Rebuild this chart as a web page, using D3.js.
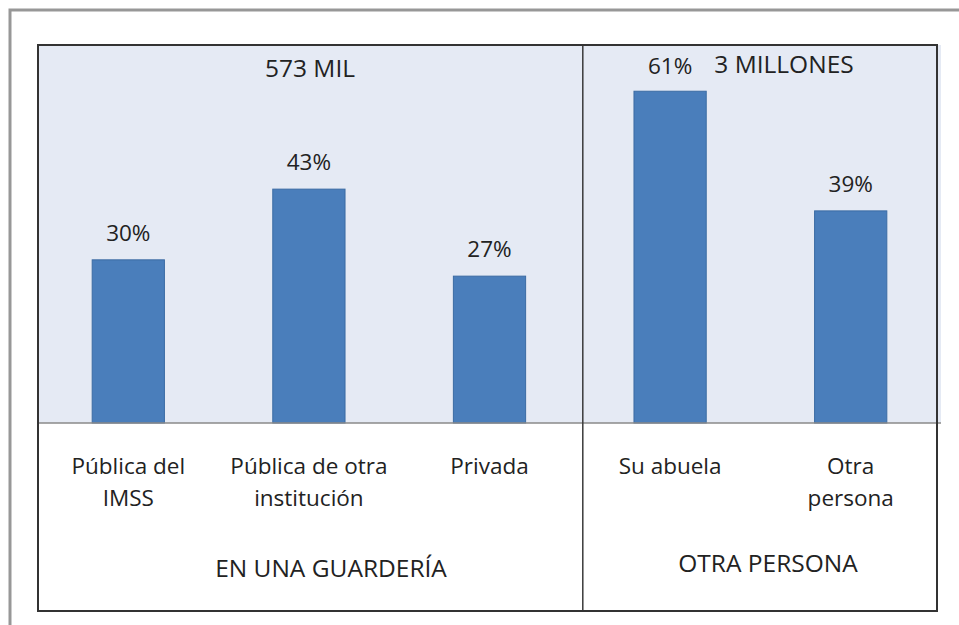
<!DOCTYPE html>
<html>
<head>
<meta charset="utf-8">
<script src="https://cdn.jsdelivr.net/npm/d3@7"></script>
<style>
  body { margin: 0; background: #fff; }
  text { font-family: "Open Sans", "Noto Sans", sans-serif; fill: #222; }
</style>
</head>
<body>
<svg width="959" height="625"></svg>
<script>
// Chart data.
var categories = [["Pública del", "IMSS"], ["Pública de otra", "institución"], ["Privada"], ["Su abuela"], ["Otra", "persona"]];
var values = [30, 43, 27, 61, 39];
var groups = ["EN UNA GUARDERÍA", "OTRA PERSONA"];
var groupTotals = ["573 MIL", "3 MILLONES"];
var groupSizes = [3, 2];

var svg = d3.select("svg");

var frame = { left: 38, top: 45, right: 937, bottom: 611 };
var axisY = 423;
var fontSize = 22.5;
var capsSize = 24.5; // upper-case labels come out narrow otherwise

// Outer grey border (cut off at right and bottom).
svg.append("path")
  .attr("d", "M10,625 V10 H959")
  .attr("fill", "none")
  .attr("stroke", "#979797")
  .attr("stroke-width", 3);

// Plot area background.
svg.append("rect")
  .attr("x", frame.left)
  .attr("y", frame.top)
  .attr("width", 941 - frame.left)
  .attr("height", axisY - frame.top)
  .attr("fill", "#e5eaf4");

var x = d3.scaleBand()
  .domain(d3.range(values.length))
  .range([frame.left, 941])
  .paddingInner(0.6)
  .paddingOuter(0.3);

var y = d3.scaleLinear()
  .domain([0, 69.5])
  .range([axisY, frame.top]);

// Bars.
svg.append("g").selectAll("rect")
  .data(values)
  .enter().append("rect")
    .attr("x", function(d, i) { return x(i); })
    .attr("y", function(d) { return y(d); })
    .attr("width", x.bandwidth())
    .attr("height", function(d) { return axisY - y(d); })
    .attr("fill", "#4a7ebb")
    .attr("stroke", "#3b6ba3")
    .attr("stroke-width", 1);

// Value labels.
svg.append("g").selectAll("text")
  .data(values)
  .enter().append("text")
    .attr("x", function(d, i) { return x(i) + x.bandwidth() / 2; })
    .attr("y", function(d) { return Math.max(y(d) - 19, 74); })
    .attr("text-anchor", "middle")
    .attr("font-size", fontSize)
    .text(function(d) { return d + "%"; });

// Category labels, possibly on two lines.
var catText = svg.append("g").selectAll("text")
  .data(categories)
  .enter().append("text")
    .attr("text-anchor", "middle")
    .attr("font-size", fontSize);

catText.each(function(d, i) {
  var element = d3.select(this);
  d.forEach(function(line, k) {
    element.append("tspan")
      .attr("x", x(i) + x.bandwidth() / 2)
      .attr("y", 474 + k * 32)
      .text(line);
  });
});

// Group separator position.
var split = (x(groupSizes[0] - 1) + x.bandwidth() + x(groupSizes[0])) / 2 + 3;

// Axis line.
svg.append("line")
  .attr("x1", frame.left).attr("x2", 941)
  .attr("y1", axisY).attr("y2", axisY)
  .attr("stroke", "#8a8a8a")
  .attr("stroke-width", 1.5);

// Separator.
svg.append("line")
  .attr("x1", split).attr("x2", split)
  .attr("y1", frame.top).attr("y2", frame.bottom)
  .attr("stroke", "#3a3a3a")
  .attr("stroke-width", 1.5);

// Frame.
svg.append("rect")
  .attr("x", frame.left)
  .attr("y", frame.top)
  .attr("width", frame.right - frame.left)
  .attr("height", frame.bottom - frame.top)
  .attr("fill", "none")
  .attr("stroke", "#333")
  .attr("stroke-width", 2);

// Group labels and totals.
var groupCenters = [331, 768];
var totalCenters = [310, 784];
svg.append("g").selectAll("text")
  .data(groups)
  .enter().append("text")
    .attr("x", function(d, i) { return groupCenters[i]; })
    .attr("y", function(d, i) { return i === 0 ? 577 : 572; })
    .attr("text-anchor", "middle")
    .attr("font-size", capsSize)
    .text(function(d) { return d; });

svg.append("g").selectAll("text")
  .data(groupTotals)
  .enter().append("text")
    .attr("x", function(d, i) { return totalCenters[i]; })
    .attr("y", function(d, i) { return i === 0 ? 77 : 73; })
    .attr("text-anchor", "middle")
    .attr("font-size", capsSize)
    .text(function(d) { return d; });
</script>
</body>
</html>
